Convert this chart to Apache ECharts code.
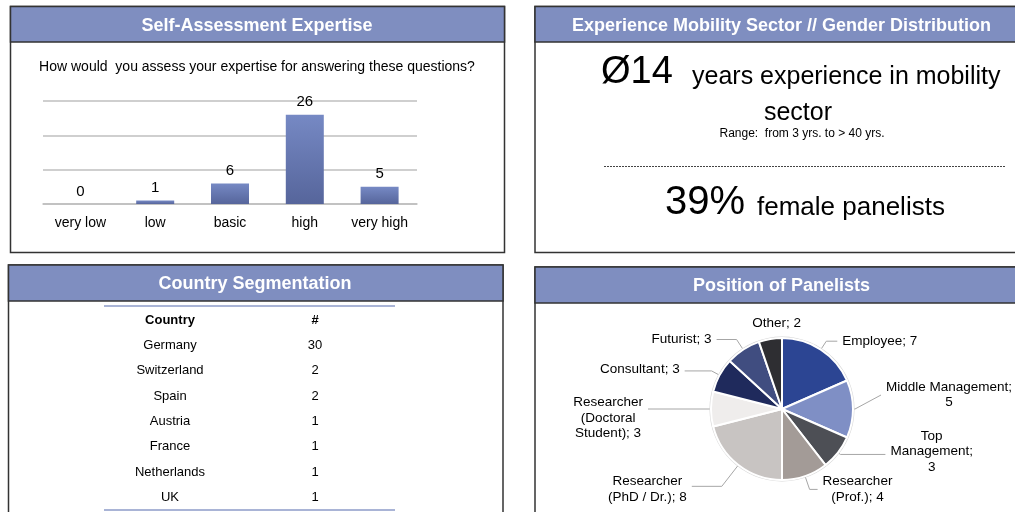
<!DOCTYPE html>
<html lang="en">
<head>
<meta charset="UTF-8">
<title>Panel overview</title>
<script src="https://cdn.jsdelivr.net/npm/echarts@6/dist/echarts.min.js"></script>
<style>
    html, body { margin: 0; padding: 0; background: #fff; }
    #container { width: 1015px; height: 512px; }
</style>
</head>
<body>
<div id="container"></div>
<script type="text/javascript">
    // self-assessment bar chart
    var expertiseLevels = ['very low', 'low', 'basic', 'high', 'very high'];
    var expertiseCounts = [0, 1, 6, 26, 5];
    var expertiseAxisMax = 30;
    var expertiseAxisStep = 10;

    // experience / gender
    var avgYears = 14;
    var minYears = 3;
    var maxYears = 40;
    var femaleShare = 39;

    // country table
    var tableColumns = ['Country', '#'];
    var countryNames = ['Germany', 'Switzerland', 'Spain', 'Austria', 'France', 'Netherlands', 'UK'];
    var countryCounts = [30, 2, 2, 1, 1, 1, 1];

    // positions pie
    var positionNames = ['Employee', 'Middle Management', 'Top\nManagement', 'Researcher\n(Prof.)',
        'Researcher\n(PhD / Dr.)', 'Researcher\n(Doctoral\nStudent)', 'Consultant', 'Futurist', 'Other'];
    var positionCounts = [7, 5, 3, 4, 8, 3, 3, 3, 2];
    var valueOnNewLine = [false, true, true, false, false, false, false, false, false];

    var FONT = '"Liberation Sans", Arial, sans-serif';
    var HEAD = '#7f8ec0';
    var EDGE = '#333333';

    var positionColors = ['#2c4593', '#7f8fc5', '#4d4f55', '#a39b97', '#c8c4c2',
        '#efedec', '#1f2a5c', '#404d80', '#2e2e32'];
    // [radial length, horizontal length] of each leader line
    var leaderLens = [[10, 11], [2, 26], [3, 45], [14, 8], [27, 30], [5, 58], [9, 27], [12, 20], [8, 0]];
    // small label nudges [dx, dy]; the leader end follows only where flagged
    var labelNudge = [[0, 0], [0, -14], [0, -3], [0, 0], [0, 3], [0, 9], [0, -2], [0, 0], [37, -8]];
    var leaderFollows = [false, true, false, false, false, false, false, false, false];

    var dom = document.getElementById('container');
    var myChart = echarts.init(dom, null, {renderer: 'canvas'});

    function panel(x, y, w, h, headH, title) {
        return [{
            type: 'rect', z: -10,
            shape: {x: x, y: y, width: w, height: h},
            style: {fill: '#fff', stroke: EDGE, lineWidth: 1.5}
        }, {
            type: 'rect', z: -9,
            shape: {x: x, y: y, width: w, height: headH},
            style: {fill: HEAD, stroke: EDGE, lineWidth: 1.5}
        }, {
            type: 'text', z: -8,
            x: x + 246.5, y: y + headH / 2 + 1.5,
            style: {text: title, fill: '#fff', font: 'bold 18px ' + FONT,
                align: 'center', verticalAlign: 'middle', textAlign: 'center', textVerticalAlign: 'middle'}
        }];
    }

    function plainText(x, y, txt, size, align) {
        return {
            type: 'text', z: 5, x: x, y: y,
            style: {text: txt, fill: '#000', font: size + 'px ' + FONT,
                align: align, verticalAlign: 'middle', textAlign: align, textVerticalAlign: 'middle'}
        };
    }

    var graphics = []
        .concat(panel(10.5, 6.5, 494, 246, 35.5, 'Self-Assessment Expertise'))
        .concat(panel(535, 6.5, 494, 246, 35.5, 'Experience Mobility Sector // Gender Distribution'))
        .concat(panel(8.5, 265, 494.5, 260, 36, 'Country Segmentation'))
        .concat(panel(535, 267, 494, 260, 36, 'Position of Panelists'));

    graphics.push(plainText(257, 67.5, 'How would  you assess your expertise for answering these questions?', 14, 'center'));
    graphics.push(plainText(601, 72.5, '\u00d8' + avgYears, 38, 'left'));
    graphics.push(plainText(692, 77, 'years experience in mobility', 25, 'left'));
    graphics.push(plainText(798, 113.5, 'sector', 25, 'center'));
    graphics.push(plainText(802, 133.5, 'Range:  from ' + minYears + ' yrs. to > ' + maxYears + ' yrs.', 12, 'center'));
    graphics.push({
        type: 'line', z: 5,
        shape: {x1: 604, y1: 166.5, x2: 1005, y2: 166.5},
        style: {stroke: '#444', lineWidth: 1, lineDash: [2, 1]}
    });
    graphics.push(plainText(665, 203, femaleShare + '%', 40, 'left'));
    graphics.push(plainText(757, 207.5, 'female panelists', 26, 'left'));
    // table rules
    graphics.push({type: 'line', z: 5, shape: {x1: 104, y1: 306, x2: 395, y2: 306},
        style: {stroke: '#a9b4d6', lineWidth: 2}});
    graphics.push({type: 'line', z: 5, shape: {x1: 104, y1: 510, x2: 395, y2: 510},
        style: {stroke: '#a9b4d6', lineWidth: 2}});

    // table cells
    var rowNames = [tableColumns[0]].concat(countryNames);
    var headCells = [[0, 0, tableColumns[0]], [1, 0, tableColumns[1]]];
    var bodyCells = [];
    for (var i = 0; i < countryNames.length; i++) {
        bodyCells.push([0, i + 1, countryNames[i]]);
        bodyCells.push([1, i + 1, String(countryCounts[i])]);
    }

    var pieData = [];
    for (var k = 0; k < positionNames.length; k++) {
        pieData.push({
            name: positionNames[k],
            value: positionCounts[k],
            itemStyle: {color: positionColors[k]},
            labelLine: {show: k !== 8, length: leaderLens[k][0], length2: leaderLens[k][1]}
        });
    }

    var option = {
        animation: false,
        textStyle: {fontFamily: FONT},
        graphic: graphics,
        grid: [
            {left: 43, right: 598, top: 101, bottom: 308},
            {left: 97.5, width: 290, top: 307.3, height: 202.7}
        ],
        xAxis: [{
            gridIndex: 0,
            type: 'category',
            data: expertiseLevels,
            axisLine: {lineStyle: {color: '#bfbfbf', width: 1.5}},
            axisTick: {show: false},
            axisLabel: {color: '#000', fontSize: 14, margin: 12}
        }, {
            gridIndex: 1,
            type: 'category',
            data: tableColumns,
            show: false
        }],
        yAxis: [{
            gridIndex: 0,
            type: 'value',
            min: 0,
            max: expertiseAxisMax,
            interval: expertiseAxisStep,
            axisLabel: {show: false},
            axisLine: {show: false},
            axisTick: {show: false},
            splitLine: {lineStyle: {color: '#bfbfbf', width: 1.5}}
        }, {
            gridIndex: 1,
            type: 'category',
            data: rowNames,
            inverse: true,
            show: false
        }],
        series: [{
            type: 'bar',
            xAxisIndex: 0,
            yAxisIndex: 0,
            data: expertiseCounts,
            barWidth: 38,
            itemStyle: {
                color: new echarts.graphic.LinearGradient(0, 0, 0, 1, [
                    {offset: 0, color: '#7689c4'},
                    {offset: 1, color: '#56659b'}
                ])
            },
            label: {show: true, position: 'top', distance: 5, color: '#000', fontSize: 15}
        }, {
            type: 'scatter',
            xAxisIndex: 1,
            yAxisIndex: 1,
            symbolSize: 1,
            itemStyle: {color: '#fff', opacity: 1},
            data: headCells,
            label: {show: true, position: 'inside', color: '#000', fontSize: 13, fontWeight: 'bold',
                formatter: function (p) { return p.data[2]; }}
        }, {
            type: 'scatter',
            xAxisIndex: 1,
            yAxisIndex: 1,
            symbolSize: 1,
            itemStyle: {color: '#fff', opacity: 1},
            data: bodyCells,
            label: {show: true, position: 'inside', color: '#000', fontSize: 13,
                formatter: function (p) { return p.data[2]; }}
        }, {
            type: 'pie',
            center: [782, 409],
            radius: [71, 72.5],
            silent: true,
            label: {show: false},
            labelLine: {show: false},
            itemStyle: {color: '#d4d4d4'},
            data: [{name: 'all', value: 1}]
        }, {
            type: 'pie',
            center: [782, 409],
            radius: 71,
            startAngle: 90,
            avoidLabelOverlap: false,
            itemStyle: {borderColor: '#fff', borderWidth: 2},
            label: {
                show: true,
                position: 'outside',
                color: '#000',
                fontSize: 13.5,
                formatter: function (p) {
                    var sep = valueOnNewLine[p.dataIndex] ? ';\n' : '; ';
                    return '{c|' + p.name + sep + p.value + '}';
                },
                rich: {c: {align: 'center', fontSize: 13.5, color: '#000', lineHeight: 15.5}}
            },
            labelLine: {lineStyle: {color: '#a6a6a6', width: 1}},
            labelLayout: function (p) {
                var n = labelNudge[p.dataIndex];
                var out = {dx: n[0], dy: n[1]};
                if (leaderFollows[p.dataIndex] && p.labelLinePoints) {
                    var pts = p.labelLinePoints;
                    out.labelLinePoints = [
                        [pts[0][0], pts[0][1]],
                        [pts[1][0], pts[1][1]],
                        [pts[2][0], pts[2][1] + n[1]]
                    ];
                }
                return out;
            },
            data: pieData
        }]
    };

    if (option && typeof option === 'object') {
        myChart.setOption(option, true);
    }
</script>
</body>
</html>
